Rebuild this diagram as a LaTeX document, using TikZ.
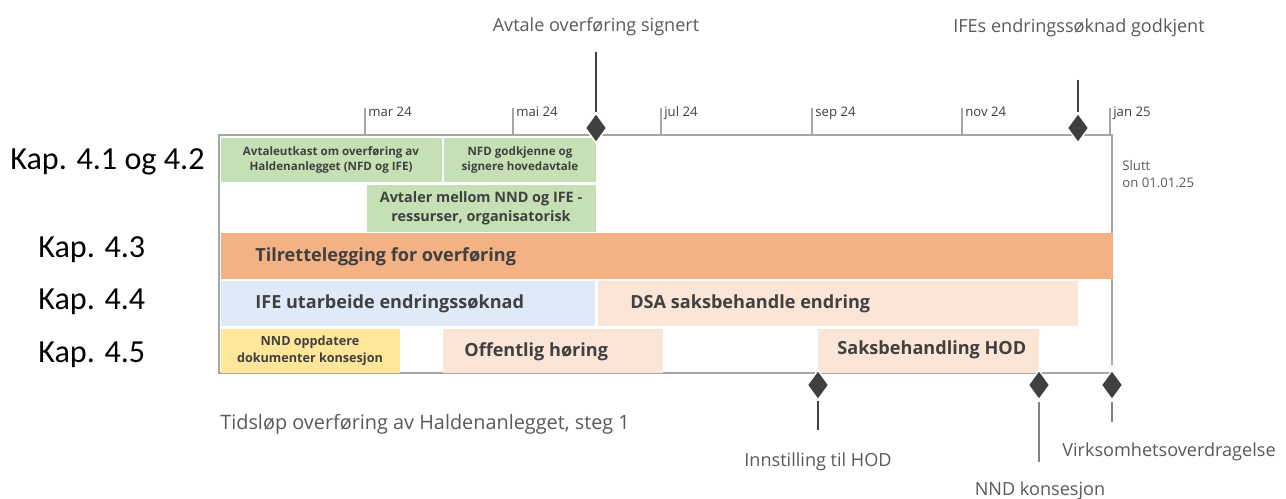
\documentclass[tikz,border=0pt]{standalone}
\usepackage{fontspec}
\setmainfont{Open Sans}
\newfontfamily\kapfont{Carlito}
\usetikzlibrary{shapes.geometric,positioning}

\definecolor{axisgray}{RGB}{166,166,166}
\definecolor{textgray}{RGB}{64,64,64}
\definecolor{lightgray}{RGB}{89,89,89}
\definecolor{diamgray}{RGB}{64,64,64}
\definecolor{taskgreen}{RGB}{197,224,180}
\definecolor{taskorange}{RGB}{244,177,131}
\definecolor{taskpeach}{RGB}{251,229,214}
\definecolor{taskblue}{RGB}{222,235,247}
\definecolor{taskyellow}{RGB}{255,230,153}

\begin{document}
\begin{tikzpicture}[x=0.02cm, y=-0.02cm,
  axisline/.style={draw=axisgray, line width=1.1pt},
  stemline/.style={draw=textgray, line width=0.9pt},
  milestone/.style={diamond, fill=diamgray, draw=white, line width=0.8pt,
                    minimum width=0.44cm, minimum height=0.6cm, inner sep=0pt},
  ticklabel/.style={anchor=base west, inner sep=0pt, text=textgray,
                    font=\fontsize{7.5}{9}\selectfont},
  mslabel/.style={inner sep=0pt, text=lightgray, font=\fontsize{10.3}{12}\selectfont},
  kaplabel/.style={anchor=base west, inner sep=0pt, font=\kapfont\fontsize{18.3}{20}\selectfont},
  smalltask/.style={align=center, inner sep=0pt, text=textgray,
                    font=\bfseries\fontsize{6.6}{8.5}\selectfont},
  bartask/.style={anchor=west, inner sep=0pt, text=textgray,
                  font=\bfseries\fontsize{10.3}{12}\selectfont}]
  \useasboundingbox (0,0) rectangle (1286,499);

  % Frame and axes
  \draw[axisline] (219,374) -- (219,135) -- (1112,135) -- (1112,365);
  \draw[axisline] (219,373) -- (1112,373);

  % Month ticks
  \foreach \x/\lab in {365/mar 24, 513/mai 24, 661/jul 24, 812/sep 24, 962/nov 24, 1110/jan 25}
  {
    \draw[axisline, line width=0.8pt] (\x,135) -- (\x,108);
    \node[ticklabel] at (\x+3,117) {\lab};
  }
  \node[anchor=base west, inner sep=0pt, text=lightgray, align=left,
        font=\fontsize{7.5}{10.2}\selectfont] (slutt) at (1122,188) {Slutt\\on 01.01.25};

  % Kap. 4.1 og 4.2
  \fill[taskgreen] (221,138) rectangle (442,182);
  \fill[taskgreen] (444,138) rectangle (596,182);
  \fill[taskgreen] (367,185) rectangle (596,232);
  \node[smalltask] (utkast) at (331,160) {Avtaleutkast om overføring av\\Haldenanlegget (NFD og IFE)};
  \node[smalltask] (godkjenne) at (520,160) {NFD godkjenne og\\signere hovedavtale};
  \node[smalltask, font=\bfseries\fontsize{8.2}{10.8}\selectfont] (ressurser) at (481,208)
    {Avtaler mellom NND og IFE -\\ressurser, organisatorisk};

  % Kap. 4.3
  \fill[taskorange] (221,233) rectangle (1113,279);
  \node[bartask] (tilrett) at (255,257) {Tilrettelegging for overføring};

  % Kap. 4.4
  \fill[taskblue] (221,281) rectangle (595,326);
  \fill[taskpeach] (598,281) rectangle (1078,326);
  \node[bartask] (ifesoknad) at (255,304) {IFE utarbeide endringssøknad};
  \node[bartask] (dsa) at (630,304) {DSA saksbehandle endring};

  % Kap. 4.5
  \fill[taskyellow] (221,329) rectangle (400,373);
  \fill[taskpeach] (443,329) rectangle (663,373);
  \fill[taskpeach] (818,329) rectangle (1039,373);
  \node[smalltask, font=\bfseries\fontsize{7.2}{9.6}\selectfont] (nndoppd) at (310,351)
    {NND oppdatere\\dokumenter konsesjon};
  \node[bartask] (horing) at (464,352) {Offentlig høring};
  \node[bartask] (saksbeh) at (837,350) {Saksbehandling HOD};

  % Row labels
  \node[kaplabel] (kap1) at (10,170) {Kap. 4.1 og 4.2};
  \node[kaplabel] (kap3) at (38,258) {Kap. 4.3};
  \node[kaplabel] (kap4) at (38,310) {Kap. 4.4};
  \node[kaplabel] (kap5) at (38,363) {Kap. 4.5};

  % Milestones
  \node[milestone] (signert) at (596,128) {};
  \node[milestone] (godkjent) at (1078,128) {};
  \node[milestone] (innstilling) at (818,385) {};
  \node[milestone] (konsesjon) at (1039,385) {};
  \node[milestone] (overdrag) at (1112,385) {};

  \coordinate (signertTop) at (596,52);
  \coordinate (godkjentTop) at (1078,80);
  \coordinate (innstillingBot) at (818,430);
  \coordinate (konsesjonBot) at (1039,462);
  \coordinate (overdragBot) at (1112,422);
  \coordinate (konsesjonTop) at (1039,402);
  \coordinate (overdragTop) at (1112,402);

  \draw[stemline] (signertTop) -- (signert.north);
  \draw[stemline] (godkjentTop) -- (godkjent.north);
  \draw[stemline] (innstilling.south) -- (innstillingBot);
  \draw[axisline, draw=gray] (konsesjonTop) -- (konsesjonBot);
  \draw[axisline, draw=gray] (overdragTop) -- (overdragBot);

  \node[mslabel, anchor=base] (signertlab) at (596,32) {Avtale overføring signert};
  \node[mslabel, anchor=base] (godkjentlab) at (1079,33) {IFEs endringssøknad godkjent};
  \node[mslabel, anchor=base] (innstillinglab) at (818,467) {Innstilling til HOD};
  \node[mslabel, anchor=base] (konsesjonlab) at (1040,496) {NND konsesjon};
  \node[mslabel, anchor=base west] (overdraglab) at (1062,457) {Virksomhetsoverdragelse};

  % Caption
  \node[anchor=base west, inner sep=0pt, text=lightgray, font=\fontsize{11.3}{13}\selectfont]
    (caption) at (220,430) {Tidsløp overføring av Haldenanlegget, steg 1};
\end{tikzpicture}
\end{document}
